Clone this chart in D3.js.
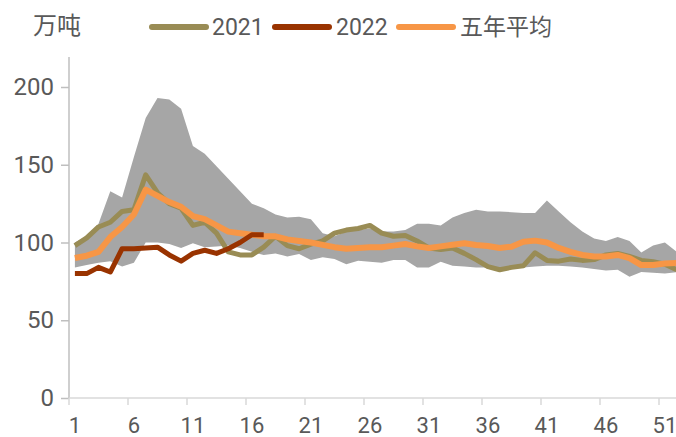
<!DOCTYPE html>
<html>
<head>
<meta charset="utf-8">
<script src="https://cdn.jsdelivr.net/npm/d3@7"></script>
<style>
  html, body { margin: 0; padding: 0; background: #fff; }
  svg { display: block; }
</style>
</head>
<body>
<svg id="chart" width="676" height="437"></svg>
<script>
const weeks = d3.range(1, 53);
const xTickLabels = [1, 6, 11, 16, 21, 26, 31, 36, 41, 46, 51];
const yTicks = [0, 50, 100, 150, 200];
const unitLabel = "万吨";
const seriesNames = ["2021", "2022", "五年平均"];

const values2021 = [98, 103, 110, 113, 120, 121, 143.5, 132, 125, 122, 111, 113, 106, 94, 92, 92, 97,
  104, 98, 96, 99, 101, 106, 108, 109, 111, 106, 104, 104.5, 101, 96.5, 95.5, 96.5, 93, 89, 84.5,
  82.5, 84, 85, 93.4, 88.5, 88, 89.4, 88.5, 89, 92, 93, 91, 88.5, 87.6, 86, 82.5];
const values2022 = [80, 80, 84, 81, 96, 96, 96.5, 97, 92, 88, 93, 95, 93, 96, 100, 105, 105];
const valuesAvg = [90, 91.5, 94, 103.5, 110, 118, 134, 130, 126, 123, 117, 115, 111, 107, 106, 105, 104,
  104, 102, 101, 100, 98.5, 97, 96, 96.5, 97, 97, 98, 99, 97.5, 96.5, 97.5, 98.5, 99.5, 98.4, 97.7,
  96.5, 97.3, 100.5, 101.2, 100, 96.5, 94, 92, 91, 91, 92, 90, 85.5, 85.5, 86.5, 86.8];
const bandMax = [100, 104, 112, 133, 129, 155, 180, 193, 192, 186, 162, 157, 149, 141, 133, 125, 122,
  118, 116, 116.5, 115, 106, 104, 107, 108, 109, 107, 107, 108, 112, 112, 111, 116, 119, 121, 120,
  120, 119.5, 119, 119, 127, 120, 113, 107, 102.5, 101, 103.5, 101, 93.5, 98, 100, 94];
const bandMin = [84, 85.5, 87, 88, 84.5, 87, 100, 100, 99, 96.5, 99.5, 97, 97.5, 98, 96.5, 94, 92,
  93, 91, 92.6, 88.7, 90.5, 89.4, 86, 88.3, 87.7, 87, 88.7, 88.7, 84, 84, 87.7, 85, 84.5, 84, 84,
  83, 84, 84, 84.5, 85, 85, 84.5, 84, 83, 82, 82.5, 78, 81, 80.5, 80, 81];

const colors = { c2021: "#998c55", c2022: "#993300", avg: "#f79646", band: "#a6a6a6", text: "#595959" };

const svg = d3.select("#chart");
const left = 69, step = 11.8;
const x = d3.scaleBand().domain(weeks).range([left, left + weeks.length * step]).padding(0);
const xc = w => x(w) + x.bandwidth() / 2;
const y = d3.scaleLinear().domain([0, 200]).range([398, 87]);

// band
const area = d3.area().x(d => xc(d.w)).y0(d => y(d.lo)).y1(d => y(d.hi));
const bandData = weeks.map((w, i) => ({ w, lo: bandMin[i], hi: bandMax[i] }));
svg.append("path").datum(bandData).attr("d", area).attr("fill", colors.band);

// axes
const yAxis = svg.append("g").attr("transform", `translate(${left},0)`)
  .call(d3.axisLeft(y).tickValues(yTicks).tickSize(8).tickPadding(7));
yAxis.select(".domain").remove();
yAxis.selectAll(".tick line").attr("stroke", "#bfbfbf").attr("stroke-width", 1.5);
yAxis.selectAll(".tick text").attr("fill", colors.text)
  .style("font-family", "Roboto, 'Noto Sans', sans-serif").style("font-size", "24px");
svg.append("line").attr("x1", left).attr("x2", left).attr("y1", 57).attr("y2", y(0))
  .attr("stroke", "#bfbfbf").attr("stroke-width", 1.5);

const xAxis = svg.append("g").attr("transform", `translate(0,${y(0)})`)
  .call(d3.axisBottom(x).tickValues(xTickLabels).tickSize(0).tickPadding(19));
xAxis.select(".domain").remove();
xAxis.selectAll(".tick text").attr("fill", colors.text)
  .style("font-family", "Roboto, 'Noto Sans', sans-serif").style("font-size", "22px");
xAxis.selectAll(".tick").append("line")
  .attr("x1", -x.bandwidth() / 2).attr("x2", -x.bandwidth() / 2)
  .attr("y1", 0).attr("y2", 7).attr("stroke", "#d9d9d9").attr("stroke-width", 1.5);
svg.append("line").attr("x1", left).attr("x2", 676).attr("y1", y(0)).attr("y2", y(0))
  .attr("stroke", "#d9d9d9").attr("stroke-width", 1.5);

// lines
const line = d3.line().x(d => xc(d.w)).y(d => y(d.v));
function drawLine(vals, color, width) {
  svg.append("path").datum(vals.map((v, i) => ({ w: weeks[i], v })))
    .attr("d", line).attr("fill", "none").attr("stroke", color)
    .attr("stroke-width", width).attr("stroke-linejoin", "round");
}
drawLine(values2021, colors.c2021, 5);
drawLine(valuesAvg, colors.avg, 6);
drawLine(values2022, colors.c2022, 5);

// unit label
svg.append("text").attr("x", 33).attr("y", 34).text(unitLabel)
  .attr("fill", colors.text).style("font-family", "'Noto Sans CJK SC', sans-serif").style("font-size", "24px");

// legend
const legend = [
  { name: seriesNames[0], color: colors.c2021, x1: 152, x2: 206, tx: 212 },
  { name: seriesNames[1], color: colors.c2022, x1: 275, x2: 329, tx: 336 },
  { name: seriesNames[2], color: colors.avg, x1: 399, x2: 453, tx: 460 }
];
const lg = svg.append("g");
legend.forEach(d => {
  lg.append("line").attr("x1", d.x1).attr("x2", d.x2).attr("y1", 27).attr("y2", 27)
    .attr("stroke", d.color).attr("stroke-width", 6).attr("stroke-linecap", "round");
  lg.append("text").attr("x", d.tx).attr("y", 35).text(d.name).attr("fill", colors.text)
    .style("font-family", "Roboto, 'Noto Sans CJK SC', sans-serif").style("font-size", "23px");
});
</script>
</body>
</html>
